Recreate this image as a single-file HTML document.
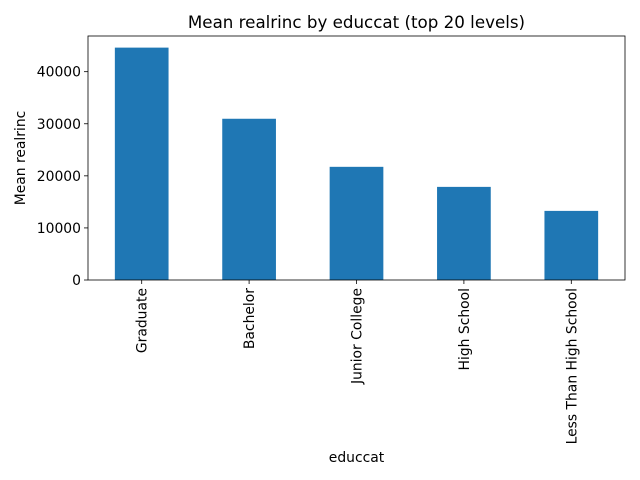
<!DOCTYPE html>
<html><head><meta charset="utf-8"><style>
html,body{margin:0;padding:0;background:#fff;}
svg{display:block;font-family:"DejaVu Sans","Liberation Sans",sans-serif;}
</style></head><body>
<svg id="chart" width="640" height="480" viewBox="0 0 640 480">
<text x="356.5" y="28" text-anchor="middle" font-size="16.7" fill="#000">Mean realrinc by educcat (top 20 levels)</text>
<g id="plot"></g>
<text x="356.5" y="462" text-anchor="middle" font-size="13.9" fill="#000">educcat</text>
<text transform="translate(25,158) rotate(-90)" text-anchor="middle" font-size="13.9" fill="#000">Mean realrinc</text>
</svg>
<script>
const categories = ["Graduate","Bachelor","Junior College","High School","Less Than High School"];
const values = [44620, 30960, 21730, 17880, 13270];
const yTicks = [0, 10000, 20000, 30000, 40000];

const L=88, R=625, T=36, B=280;
const yMax = Math.max(...values)*1.05;
const y = v => B - v/yMax*(B-T);
const step = (R-L)/categories.length;
const x = i => L + step*(i+0.5);
const ns="http://www.w3.org/2000/svg";
const g=document.getElementById('plot');
function mk(t,a){const e=document.createElementNS(ns,t);for(const k in a)e.setAttribute(k,a[k]);g.appendChild(e);return e;}

values.forEach((v,i)=>{
  const r=mk('rect',{x:x(i)-step*0.25,y:y(v),width:step*0.5,height:B-y(v),fill:'#1f77b4'});
  
  
  const tk=mk('line',{x1:x(i),x2:x(i),y1:B,y2:B+4,stroke:'#000','stroke-width':0.8});
  
  
  const tx=mk('text',{transform:`translate(${x(i)+5},${B+8}) rotate(-90)`,'text-anchor':'end','font-size':13.9,fill:'#000'});
  tx.textContent=categories[i];
  
  
});
yTicks.forEach(t=>{
  const tk=mk('line',{x1:L-4,x2:L,y1:y(t),y2:y(t),stroke:'#000','stroke-width':0.8});
  
  
  const tx=mk('text',{x:L-7,y:y(t)+5,'text-anchor':'end','font-size':13.9,fill:'#000'});
  tx.textContent=t;
  
  
});
const fr=mk('rect',{x:L,y:T,width:R-L,height:B-T,fill:'none',stroke:'#000','stroke-width':0.8});


</script>
</body></html>
